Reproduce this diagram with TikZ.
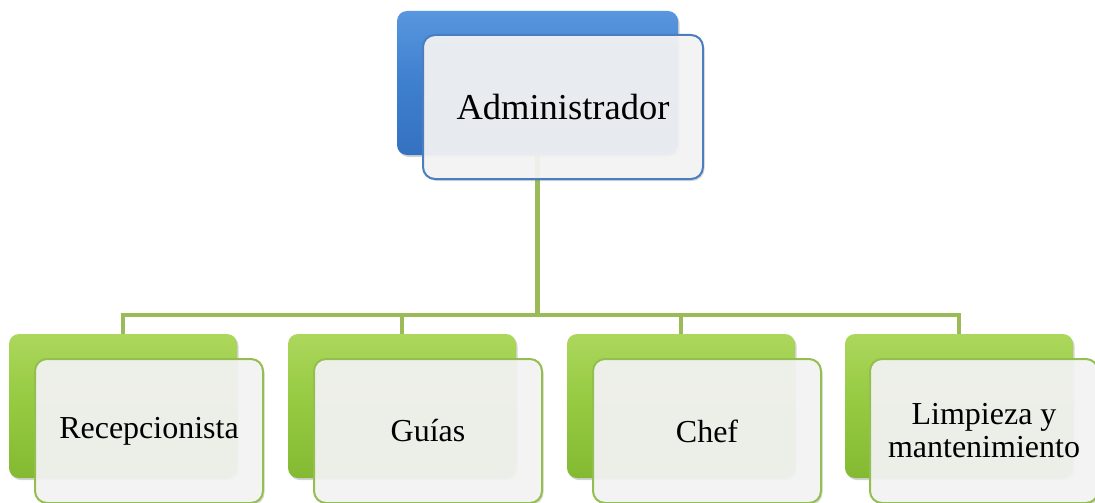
\documentclass[tikz,border=0pt]{standalone}
\usepackage{fontspec}
\setmainfont{Liberation Serif}
\usetikzlibrary{positioning,shadows,backgrounds}

\definecolor{azulclaro}{RGB}{88,150,222}
\definecolor{azul}{RGB}{62,127,206}
\definecolor{azuloscuro}{RGB}{52,114,192}
\definecolor{bordeazul}{RGB}{74,126,190}
\definecolor{verdeclaro}{RGB}{172,215,92}
\definecolor{verde}{RGB}{148,201,64}
\definecolor{verdeoscuro}{RGB}{132,186,50}
\definecolor{bordeverde}{RGB}{148,190,80}
\definecolor{linea}{RGB}{155,187,89}
\definecolor{papel}{RGB}{245,245,245}

\tikzstyle{fondo} = [rounded corners=10pt, inner sep=0pt, minimum width=228pt, minimum height=144pt, drop shadow={opacity=0.35, shadow xshift=1.5pt, shadow yshift=-2pt}]
\tikzstyle{fondoazul} = [fondo, top color=azulclaro, bottom color=azuloscuro, middle color=azul, minimum width=281pt]
\tikzstyle{fondoverde} = [fondo, top color=verdeclaro, bottom color=verdeoscuro, middle color=verde]
\tikzstyle{tarjeta} = [rounded corners=12pt, inner sep=0pt, minimum width=228pt, minimum height=144pt, line width=2pt, fill=papel, fill opacity=0.92, text opacity=1, align=center, font=\fontsize{32}{33}\selectfont, drop shadow={opacity=0.3, shadow xshift=1.5pt, shadow yshift=-2pt}]
\tikzstyle{tarjetaazul} = [tarjeta, draw=bordeazul, minimum width=280pt, font=\fontsize{36.5}{40}\selectfont]
\tikzstyle{tarjetaverde} = [tarjeta, draw=bordeverde]
\tikzstyle{conector} = [draw=linea, line width=4.5pt]

\begin{document}
\begin{tikzpicture}[x=1pt,y=-1pt]
	\useasboundingbox (0,0) rectangle (1095,503);

	% cajas de fondo
	\node[fondoazul] (adm) at (537.5,83) {};
	\node[fondoverde] (rec) at (123,406) {};
	\node[fondoverde] (gui) at (402,406) {};
	\node[fondoverde] (che) at (681,406) {};
	\node[fondoverde] (lim) at (959,406) {};

	% lineas
	\begin{pgfonlayer}{background}
		\coordinate (bus) at (537.5,315);
		\draw[conector] (adm.south) -- (bus);
		\draw[conector] (rec.north) |- (bus);
		\draw[conector] (gui.north) |- (bus);
		\draw[conector] (che.north) |- (bus);
		\draw[conector] (lim.north) |- (bus);
	\end{pgfonlayer}

	% cajas de texto
	\node[tarjetaazul] (adm2) at ([shift={(25.5,24)}]adm.center) {Administrador};
	\node[tarjetaverde] (rec2) at ([shift={(26,25)}]rec.center) {Recepcionista};
	\node[tarjetaverde] (gui2) at ([shift={(26,25)}]gui.center) {Guías};
	\node[tarjetaverde] (che2) at ([shift={(26,25)}]che.center) {Chef};
	\node[tarjetaverde] (lim2) at ([shift={(25,25)}]lim.center) {Limpieza y\\mantenimiento};
\end{tikzpicture}
\end{document}
